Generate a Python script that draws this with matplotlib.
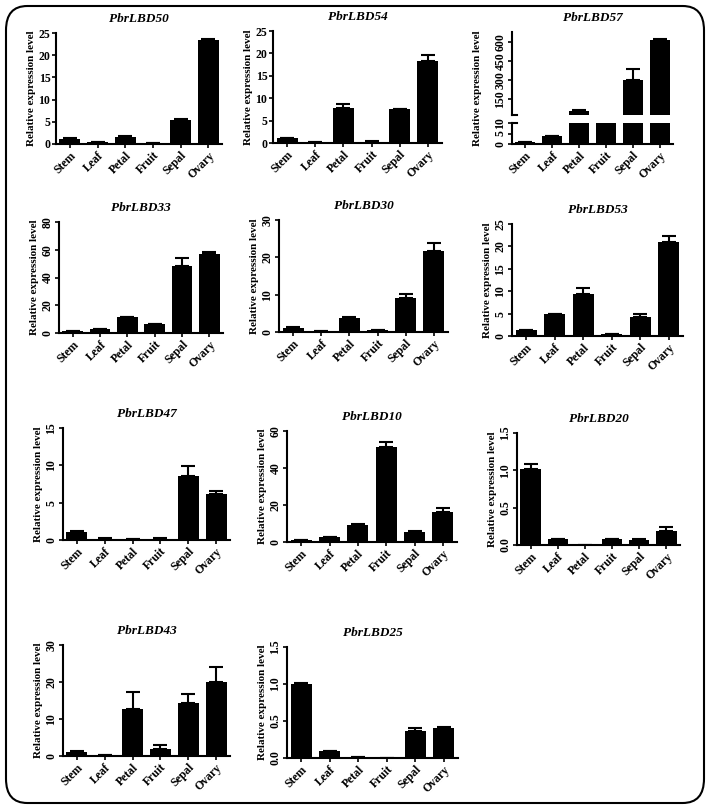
import matplotlib
matplotlib.use("Agg")
from matplotlib import pyplot as plt
from matplotlib.patches import FancyBboxPatch

plt.rcParams['font.family'] = ['Liberation Serif', 'DejaVu Serif']
plt.rcParams['font.weight'] = 'bold'

tissues = ["Stem", "Leaf", "Petal", "Fruit", "Sepal", "Ovary"]

lbd50 = [1.2, 0.4, 1.6, 0.2, 5.5, 23.4]
lbd50_err = [0.1, 0.05, 0.1, 0.03, 0.1, 0.15]
lbd54 = [1.1, 0.2, 7.8, 0.3, 7.6, 18.3]
lbd54_err = [0.1, 0.05, 0.9, 0.05, 0.1, 1.3]
lbd57 = [1.0, 3.6, 60, 20, 300, 615]
lbd57_err = [0.1, 0.1, 6, 0.5, 88, 6]
lbd33 = [1.2, 3.1, 11.2, 6.4, 48.2, 56.8]
lbd33_err = [0.1, 0.1, 0.2, 0.2, 6.0, 1.3]
lbd30 = [1.2, 0.3, 3.7, 0.5, 9.1, 21.7]
lbd30_err = [0.1, 0.05, 0.3, 0.05, 1.2, 2.1]
lbd53 = [1.3, 4.8, 9.4, 0.4, 4.3, 20.9]
lbd53_err = [0.15, 0.1, 1.4, 0.05, 0.6, 1.5]
lbd47 = [1.1, 0.2, 0.1, 0.2, 8.55, 6.2]
lbd47_err = [0.15, 0.03, 0.02, 0.05, 1.3, 0.4]
lbd10 = [1.1, 2.5, 9.4, 51.4, 5.4, 16.3]
lbd10_err = [0.1, 0.4, 0.4, 2.6, 0.5, 2.1]
lbd20 = [1.02, 0.08, 0.0, 0.08, 0.07, 0.19]
lbd20_err = [0.07, 0.005, 0.0, 0.005, 0.005, 0.05]
lbd43 = [1.2, 0.3, 12.7, 1.8, 14.4, 19.9]
lbd43_err = [0.1, 0.05, 4.6, 1.2, 2.4, 4.1]
lbd25 = [1.0, 0.094, 0.015, 0.003, 0.37, 0.40]
lbd25_err = [0.01, 0.006, 0.003, 0.001, 0.03, 0.02]

W, H = 710, 807
fig = plt.figure(figsize=(W / 100, H / 100), dpi=100)

# rounded frame round the whole figure
fig.patches.append(FancyBboxPatch((6 / W, 4 / H), 698 / W, 797 / H,
                                  boxstyle="round,pad=0,rounding_size=0.03",
                                  transform=fig.transFigure, fill=False,
                                  edgecolor='black', linewidth=1.5))


def px_axes(x0, x1, y0, y1):
    return fig.add_axes([x0 / W, 1 - y1 / H, (x1 - x0) / W, (y1 - y0) / H])


def style(ax, rot_y=True, xlabels=True):
    for s in ['top', 'right']:
        ax.spines[s].set_visible(False)
    for s in ['left', 'bottom']:
        ax.spines[s].set_linewidth(1.5)
    ax.tick_params(width=1.2, length=3, labelsize=8.5, pad=1)
    ax.set_xlim(-0.5, 5.5)
    ax.set_xticks(range(6))
    if xlabels:
        ax.set_xticklabels(tissues, rotation=45, ha='right',
                           rotation_mode='anchor', fontsize=8.5, fontweight='bold')
    if rot_y:
        for t in ax.get_yticklabels():
            t.set_rotation(90)
            t.set_va('center')


def draw_bars(ax, vals, errs, floor=None):
    ax.bar(range(6), vals, width=0.75, color='black')
    xs = [i for i in range(6) if floor is None or vals[i] > floor]
    ax.errorbar(xs, [vals[i] for i in xs],
                yerr=[[0] * len(xs), [errs[i] for i in xs]], fmt='none',
                ecolor='black', elinewidth=1.5, capsize=5, capthick=1.5)


panels = [
    ("PbrLBD50", lbd50, lbd50_err, (56, 222, 33, 144), 25, 5, False, "{:.0f}"),
    ("PbrLBD54", lbd54, lbd54_err, (273, 442, 31, 143), 25, 5, False, "{:.0f}"),
    ("PbrLBD33", lbd33, lbd33_err, (59, 223, 222, 333), 80, 20, True, "{:.0f}"),
    ("PbrLBD30", lbd30, lbd30_err, (279, 448, 220, 332), 30, 10, True, "{:.0f}"),
    ("PbrLBD53", lbd53, lbd53_err, (512, 683, 224, 336), 25, 5, True, "{:.0f}"),
    ("PbrLBD47", lbd47, lbd47_err, (63, 230, 428, 540), 15, 5, True, "{:.0f}"),
    ("PbrLBD10", lbd10, lbd10_err, (287, 457, 431, 542), 60, 20, True, "{:.0f}"),
    ("PbrLBD20", lbd20, lbd20_err, (517, 680, 433, 545), 1.5, 0.5, True, "{:.1f}"),
    ("PbrLBD43", lbd43, lbd43_err, (63, 230, 645, 756), 30, 10, True, "{:.0f}"),
    ("PbrLBD25", lbd25, lbd25_err, (287, 458, 647, 758), 1.5, 0.5, True, "{:.1f}"),
]

for name, vals, errs, box, ymax, step, rot, fmt in panels:
    ax = px_axes(*box)
    draw_bars(ax, vals, errs)
    ax.set_ylim(0, ymax)
    ticks = [i * step for i in range(int(round(ymax / step)) + 1)]
    ax.set_yticks(ticks)
    ax.set_yticklabels([fmt.format(t) for t in ticks])
    style(ax, rot_y=rot)
    ax.set_ylabel("Relative expression level", fontsize=8, fontweight='bold', labelpad=2)
    ax.set_title(name, fontsize=9.5, fontweight='bold', style='italic', pad=8)

# PbrLBD57 with broken y axis
ax_hi = px_axes(512, 673, 32, 115)
ax_lo = px_axes(512, 673, 123, 144)
draw_bars(ax_hi, lbd57, lbd57_err, floor=28)
draw_bars(ax_lo, lbd57, lbd57_err, floor=None)
ax_hi.set_ylim(28, 678)
ax_hi.set_yticks([150, 300, 450, 600])
ax_lo.set_ylim(0, 10)
ax_lo.set_yticks([0, 5, 10])
style(ax_hi, xlabels=False)
ax_hi.spines['bottom'].set_visible(False)
ax_hi.tick_params(axis='x', bottom=False, labelbottom=False)
style(ax_lo)
# small marks at the break
ax_hi.plot([-0.5, -0.3], [28, 28], color='black', lw=1.5, clip_on=False)
ax_lo.plot([-0.5, -0.3], [10, 10], color='black', lw=1.5, clip_on=False)
ax_hi.set_title("PbrLBD57", fontsize=9.5, fontweight='bold', style='italic', pad=8)
fig.text(478 / W, 1 - 88 / H, "Relative expression level", rotation=90,
         ha='center', va='center', fontsize=8, fontweight='bold')

fig.savefig("out.png", dpi=100)
